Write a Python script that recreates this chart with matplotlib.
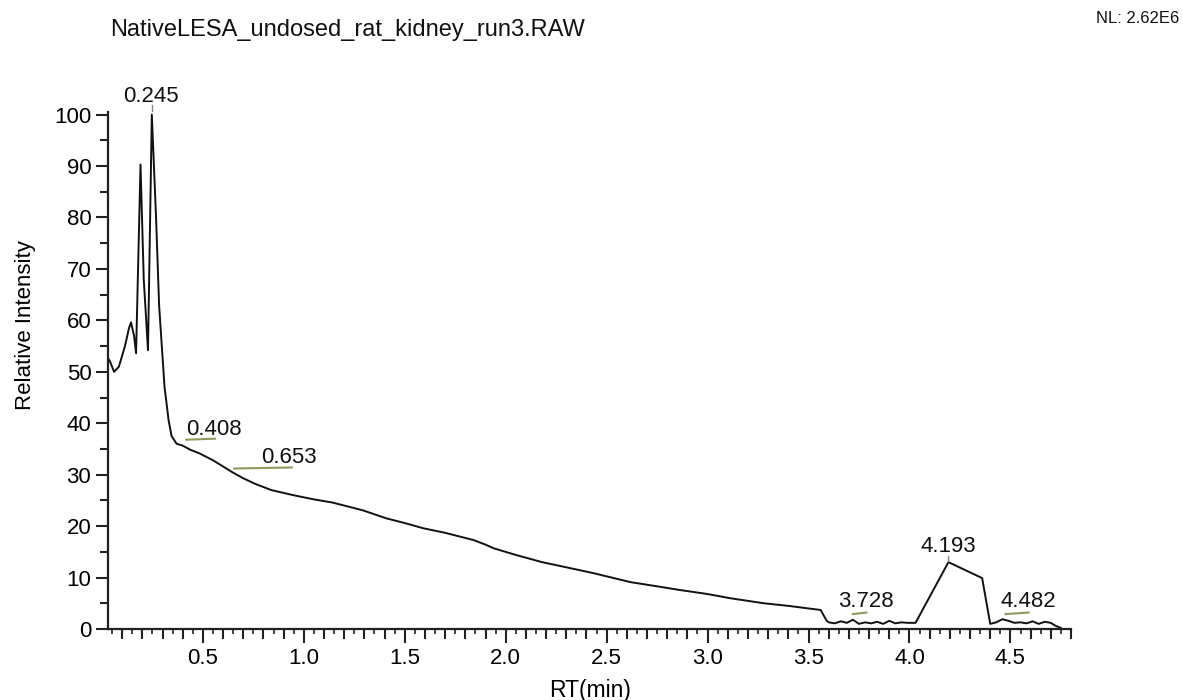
import matplotlib
matplotlib.use("Agg")
import matplotlib.pyplot as plt
from matplotlib.ticker import MultipleLocator, FixedLocator

plt.rcParams['font.family'] = ['Liberation Sans', 'DejaVu Sans']

title = "NativeLESA_undosed_rat_kidney_run3.RAW"
nl_text = "NL: 2.62E6"
x_label = "RT(min)"
y_label = "Relative Intensity"

rt = [0.025, 0.04, 0.06, 0.084, 0.114, 0.134, 0.144, 0.159, 0.169, 0.191, 0.207,
      0.228, 0.247, 0.268, 0.283, 0.31, 0.318, 0.33, 0.345, 0.37, 0.397, 0.44, 0.48,
      0.55, 0.60, 0.645, 0.70, 0.76, 0.84, 0.95, 1.05, 1.14, 1.29, 1.41, 1.50,
      1.59, 1.70, 1.84, 1.90, 1.94, 2.05, 2.18, 2.30, 2.43, 2.62, 2.75, 2.86,
      3.00, 3.11, 3.28, 3.40, 3.56, 3.59, 3.60, 3.63, 3.66, 3.69, 3.72, 3.75,
      3.78, 3.81, 3.84, 3.87, 3.90, 3.93, 3.96, 3.99, 4.03, 4.193, 4.36, 4.40,
      4.43, 4.46, 4.49, 4.52, 4.55, 4.58, 4.61, 4.64, 4.67, 4.70, 4.72, 4.75]
intensity = [53.0, 52.0, 50.0, 51.0, 55.0, 58.5, 59.6, 57.0, 53.6, 90.3, 68.0,
             54.2, 100.0, 80.0, 63.0, 47.0, 44.5, 40.6, 37.5, 36.0, 35.7, 34.8, 34.2,
             32.8, 31.6, 30.5, 29.3, 28.2, 27.0, 26.0, 25.2, 24.6, 23.1, 21.5, 20.6,
             19.6, 18.7, 17.3, 16.4, 15.7, 14.4, 13.0, 12.0, 10.9, 9.1, 8.3, 7.6,
             6.8, 6.0, 5.0, 4.5, 3.7, 1.6, 1.3, 1.1, 1.5, 1.2, 1.8, 1.0,
             1.3, 1.1, 1.4, 1.0, 1.6, 1.1, 1.3, 1.2, 1.2, 13.0, 9.9, 1.0,
             1.3, 1.9, 1.6, 1.2, 1.3, 1.1, 1.5, 1.0, 1.4, 1.2, 0.7, 0.2]

# peak annotations
peak_labels = ["0.245", "0.408", "0.653", "3.728", "4.193", "4.482"]
label_x = [0.245, 0.417, 0.789, 3.782, 4.190, 4.590]
label_y = [102.4, 37.7, 32.2, 4.3, 14.9, 4.3]
label_ha = ["center", "left", "left", "center", "center", "center"]
underline_x0 = [0.417, 0.655, 3.72, 4.476]
underline_x1 = [0.560, 0.94, 3.787, 4.59]
underline_y0 = [36.8, 31.2, 2.9, 2.9]
underline_y1 = [37.0, 31.4, 3.2, 3.2]
apex_x = [0.247, 4.193]
apex_y0 = [100.6, 13.3]
apex_y1 = [101.8, 14.2]

fig = plt.figure(figsize=(11.83, 7.0), dpi=100)
ax = fig.add_axes([0.0913, 0.1014, 0.8140, 0.7386])

ax.plot(rt, intensity, color="#111111", lw=1.4)

ax.set_xlim(0.03, 4.80)
ax.set_ylim(0, 100.5)

for s in ["top", "right"]:
    ax.spines[s].set_visible(False)
for s in ["left", "bottom"]:
    ax.spines[s].set_linewidth(1.6)
    ax.spines[s].set_color("#222222")

ax.yaxis.set_major_locator(MultipleLocator(10))
ax.yaxis.set_minor_locator(MultipleLocator(5))
ax.tick_params(axis="y", which="major", direction="out", length=9, width=1.5,
               labelsize=16, pad=3, color="#222222")
ax.tick_params(axis="y", which="minor", direction="out", length=6, width=1.5, color="#222222")

ax.xaxis.set_major_locator(FixedLocator([0.5, 1.0, 1.5, 2.0, 2.5, 3.0, 3.5, 4.0, 4.5]))
ax.xaxis.set_major_formatter(plt.FuncFormatter(lambda v, p: f"{v:.1f}"))
ax.xaxis.set_minor_locator(MultipleLocator(0.1))
ax.tick_params(axis="x", which="major", direction="out", length=10, width=1.5,
               labelsize=16, pad=4, color="#222222")
ax.tick_params(axis="x", which="minor", direction="out", length=7, width=1.5, color="#222222")
sec = ax.secondary_xaxis("bottom")
sec.xaxis.set_major_locator(MultipleLocator(0.05))
sec.tick_params(axis="x", direction="out", length=3.5, width=1.2, labelbottom=False, color="#222222")
sec.spines["bottom"].set_visible(False)

ax.set_xlabel(x_label, fontsize=16.5)
ax.xaxis.set_label_coords(0.5005, -0.118)
ax.xaxis.label.set_va("center")
ax.set_ylabel(y_label, fontsize=16)
ax.yaxis.set_label_coords(-0.086, 0.588)
ax.yaxis.label.set_va("center")

for lab, tx, ty, ha in zip(peak_labels, label_x, label_y, label_ha):
    ax.text(tx, ty, lab, ha=ha, va="baseline", fontsize=16, clip_on=False, color="#111111")
for x0, x1, y0, y1 in zip(underline_x0, underline_x1, underline_y0, underline_y1):
    ax.plot([x0, x1], [y0, y1], color="#8c9a5e", lw=1.5, clip_on=False)
for xa, y0, y1 in zip(apex_x, apex_y0, apex_y1):
    ax.plot([xa, xa], [y0, y1], color="#888888", lw=1.0, clip_on=False)

fig.text(0.093, 0.9486, title, fontsize=17, ha="left", va="baseline", color="#111111")
fig.text(0.997, 0.967, nl_text, fontsize=12, ha="right", va="baseline", color="#111111")

fig.savefig("out.png", dpi=100)
